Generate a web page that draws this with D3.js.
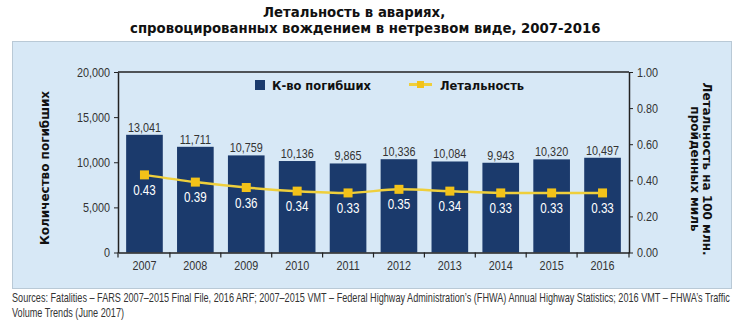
<!DOCTYPE html>
<html><head><meta charset="utf-8">
<script src="https://cdn.jsdelivr.net/npm/d3@7"></script>
<style>
body{margin:0;background:#fff;}
svg{display:block;}
.narrow{font-family:"Liberation Sans Narrow","Liberation Sans",Arial,sans-serif;}
.bold{font-family:"DejaVu Sans",sans-serif;font-weight:bold;}
</style></head>
<body><svg id="c" width="744" height="322"></svg>
<script>
const years = ["2007","2008","2009","2010","2011","2012","2013","2014","2015","2016"];
const fatalities = [13041, 11711, 10759, 10136, 9865, 10336, 10084, 9943, 10320, 10497];
const rates = [0.43, 0.39, 0.36, 0.34, 0.33, 0.35, 0.34, 0.33, 0.33, 0.33];
const leftTicks = [0, 5000, 10000, 15000, 20000];
const rightTicks = [0, 0.2, 0.4, 0.6, 0.8, 1.0];
const titleLines = ["Летальность в авариях,", "спровоцированных вождением в нетрезвом виде, 2007-2016"];
const legendLabels = ["К-во погибших", "Летальность"];
const leftTitle = "Количество погибших";
const rightTitleLines = ["Летальность на 100 млн.", "пройденных миль"];
const sourceLines = ["Sources: Fatalities – FARS 2007–2015 Final File, 2016 ARF; 2007–2015 VMT – Federal Highway Administration’s (FHWA) Annual Highway Statistics; 2016 VMT – FHWA’s Traffic", "Volume Trends (June 2017)"];

const svg = d3.select("#c");
const BAR = "#1b3a6c", LINE = "#efcf3c", MARK = "#f3c219", AX = "#222";
const m = {l:118, r:629, t:72, b:252.5};

// title
svg.append("g").selectAll("text").data(titleLines).join("text")
  .attr("class","bold").attr("x",(d,i)=>i===0?263:130).attr("y",(d,i)=>16.5+i*16.5)
  .attr("font-size",13.3).attr("fill","#111").text(d=>d);

// panel
svg.append("rect").attr("x",12.5).attr("y",41.5).attr("width",719).attr("height",247)
  .attr("fill","#d7e8f6").attr("stroke","#b9c9d6");

const x = d3.scaleBand().domain(years).range([m.l,m.r]).paddingInner(0.28).paddingOuter(0.16);
const yL = d3.scaleLinear().domain([0,20000]).range([m.b,m.t]);
const yR = d3.scaleLinear().domain([0,1]).range([m.b,m.t]);

// bars
svg.append("g").selectAll("rect").data(fatalities).join("rect")
  .attr("x",(d,i)=>x(years[i])).attr("y",d=>yL(d)).attr("width",x.bandwidth())
  .attr("height",d=>yL(0)-yL(d)).attr("fill",BAR);
svg.append("g").selectAll("text").data(fatalities).join("text")
  .attr("class","narrow").attr("x",(d,i)=>x(years[i])+x.bandwidth()/2).attr("y",d=>yL(d)-3)
  .attr("text-anchor","middle").attr("font-size",13.5).attr("fill","#333").text(d3.format(","));

// frame top line
svg.append("line").attr("x1",m.l).attr("x2",m.r).attr("y1",m.t).attr("y2",m.t).attr("stroke",AX).attr("stroke-width",1.5);

// axes
const axL = svg.append("g").attr("transform",`translate(${m.l},0)`)
  .call(d3.axisLeft(yL).tickValues(leftTicks).tickFormat(d3.format(",")).tickSize(4).tickSizeOuter(0));
const axR = svg.append("g").attr("transform",`translate(${m.r},0)`)
  .call(d3.axisRight(yR).tickValues(rightTicks).tickFormat(d3.format(".2f")).tickSize(4).tickSizeOuter(0));
const axB = svg.append("g").attr("transform",`translate(0,${m.b})`)
  .call(d3.axisBottom(x).tickSize(0).tickPadding(8));
[axL,axR,axB].forEach(a=>{
  a.attr("font-family",null).attr("font-size",null);
  a.selectAll(".domain").attr("stroke",AX).attr("stroke-width",1.5);
  a.selectAll(".tick line").attr("stroke",AX);
  a.selectAll("text").attr("class","narrow").attr("font-size",13.5).attr("fill","#333");
});
axL.selectAll("text").attr("x",-8);
axR.selectAll("text").attr("x",8);
// category separator ticks on bottom axis
const seps = d3.range(years.length+1).map(i=> i===0 ? m.l : i===years.length ? m.r : (x(years[i-1])+x.bandwidth()+x(years[i]))/2);
svg.append("g").selectAll("line").data(seps).join("line")
  .attr("x1",d=>d).attr("x2",d=>d).attr("y1",m.b).attr("y2",m.b+5).attr("stroke",AX).attr("stroke-width",1.2);

// line
const cx = (d,i)=>x(years[i])+x.bandwidth()/2;
svg.append("path").datum(rates).attr("fill","none").attr("stroke",LINE).attr("stroke-width",2.5)
  .attr("d",d3.line().x(cx).y(d=>yR(d)).curve(d3.curveMonotoneX));
svg.append("g").selectAll("rect").data(rates).join("rect")
  .attr("x",(d,i)=>cx(d,i)-4.5).attr("y",d=>yR(d)-4.5).attr("width",9).attr("height",9).attr("fill",MARK);
svg.append("g").selectAll("text").data(rates).join("text")
  .attr("class","narrow").attr("x",cx).attr("y",d=>yR(d)+20)
  .attr("text-anchor","middle").attr("font-size",14.5).attr("fill","#fff").text(d3.format(".2f"));

// legend
const lg = svg.append("g");
lg.append("rect").attr("x",255).attr("y",80).attr("width",10).attr("height",10).attr("fill",BAR);
lg.append("text").attr("class","bold").attr("x",272).attr("y",89.5).attr("font-size",11.5).attr("fill","#111").text(legendLabels[0]);
lg.append("line").attr("x1",409).attr("x2",432).attr("y1",84.5).attr("y2",84.5).attr("stroke",LINE).attr("stroke-width",3);
lg.append("rect").attr("x",417).attr("y",81).attr("width",7).attr("height",7).attr("fill",MARK);
lg.append("text").attr("class","bold").attr("x",440).attr("y",89.5).attr("font-size",11.5).attr("fill","#111").text(legendLabels[1]);

// axis titles
svg.append("text").attr("class","bold").attr("transform","translate(49,168) rotate(-90)")
  .attr("text-anchor","middle").attr("font-size",12).attr("fill","#111").text(leftTitle);
svg.append("g").attr("transform","translate(703,169) rotate(90)").selectAll("text").data(rightTitleLines).join("text")
  .attr("class","bold").attr("x",0).attr("y",(d,i)=>i*12.5).attr("text-anchor","middle")
  .attr("font-size",12).attr("fill","#111").text(d=>d);

// condense the narrow texts (no condensed font installed)
svg.selectAll("text.narrow").each(function(){
  const w = this.getComputedTextLength();
  d3.select(this).attr("textLength",w*0.8).attr("lengthAdjust","spacingAndGlyphs");
});

// source (condensed by a group transform so its box stays inside the page)
const src = svg.append("g").attr("transform","translate(12,0)");
const srcT = src.selectAll("text").data(sourceLines).join("text")
  .attr("class","narrow").attr("x",0).attr("y",(d,i)=>302+i*15)
  .attr("font-size",12.5).attr("fill","#333").text(d=>d);
const w0 = srcT.node().getComputedTextLength();
src.attr("transform",`translate(12,0) scale(${718/w0},1)`);
</script></body></html>
